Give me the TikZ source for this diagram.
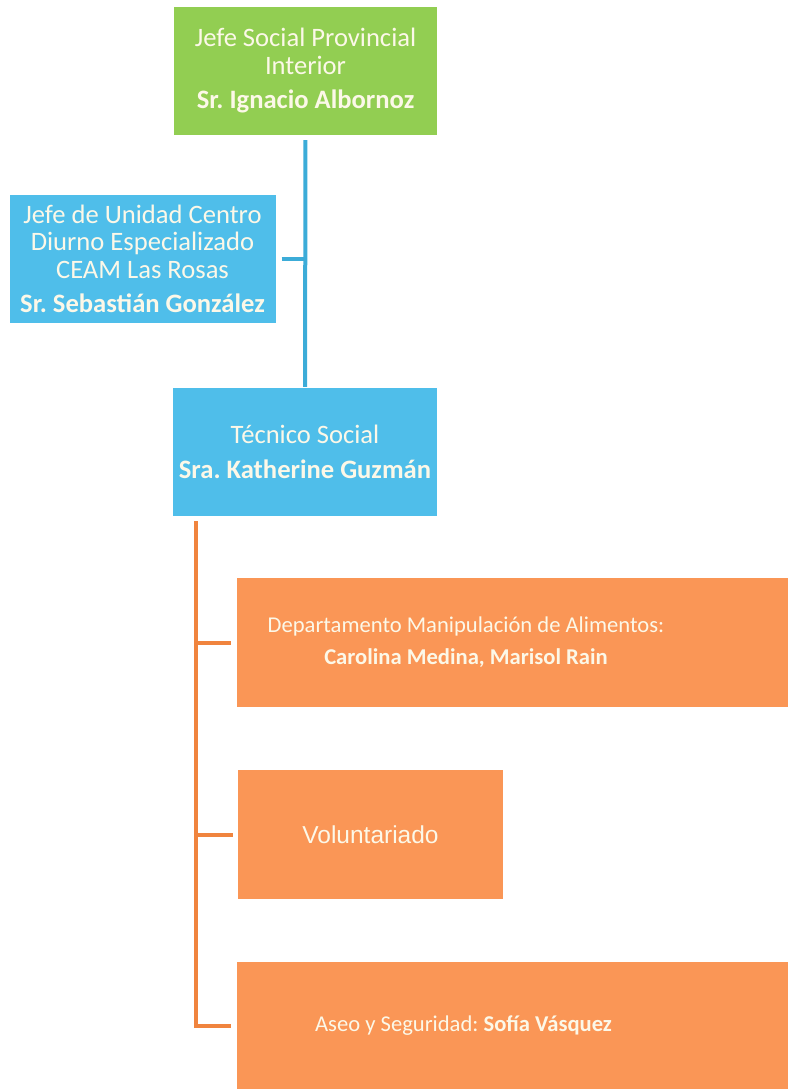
\documentclass[tikz,border=0pt]{standalone}
\usepackage{fontspec}
\setmainfont{Carlito}
\newfontfamily\arialfont{Liberation Sans}
\frenchspacing

\definecolor{jefegreen}{RGB}{146,206,82}
\definecolor{cyanbox}{RGB}{79,190,234}
\definecolor{cyanline}{RGB}{60,172,216}
\definecolor{orangebox}{RGB}{250,150,86}
\definecolor{orangeline}{RGB}{240,132,62}
\definecolor{cream}{RGB}{252,248,232}

\begin{document}
\begin{tikzpicture}[x=1pt, y=1pt]
    \tikzstyle{box}=[rectangle, text=cream, align=center, inner sep=1pt]
    \tikzstyle{topbox}=[box, minimum width=264pt, minimum height=128pt,
        font=\fontsize{26.6}{27.5}\selectfont]
    \tikzstyle{areabox}=[box, fill=orangebox, minimum height=129pt,
        font=\fontsize{23}{32}\selectfont]
    \tikzstyle{areatext}=[text=cream, align=center, inner sep=0pt,
        font=\fontsize{22.6}{32}\selectfont]
    \tikzstyle{bline}=[draw=cyanline, line width=4pt]
    \tikzstyle{oline}=[draw=orangeline, line width=4pt]

    \useasboundingbox (0, 0) rectangle (787, -1089);

    % jefaturas
    \node (jefe) at (305.5, -71) [topbox, fill=jefegreen, minimum width=263pt]
        {Jefe Social Provincial\\Interior\\[7pt]\textbf{Sr. Ignacio Albornoz}};
    \node (unidad) at (142.5, -259) [topbox, fill=cyanbox, minimum width=266pt]
        {Jefe de Unidad Centro\\Diurno Especializado\\CEAM Las Rosas\\[7pt]%
        \textbf{Sr. Sebastián González}};
    \node (tecnico) at (305, -452) [topbox, fill=cyanbox]
        {Técnico Social\\[7pt]\textbf{Sra. Katherine Guzmán}};

    % areas
    \node (alimentos) at (516, -642.5) [areabox, minimum width=558pt,
        label={[areatext, xshift=-50pt]center:{Departamento Manipulación de Alimentos:\\%
        \textbf{Carolina Medina, Marisol Rain}}}] {};
    \node (voluntariado) at (370.5, -834.5) [areabox, minimum width=265pt,
        font=\arialfont\fontsize{24.5}{28}\selectfont] {Voluntariado};
    \node (aseo) at (516, -1026) [areabox, minimum width=558pt,
        label={[areatext, xshift=-52.5pt]center:{Aseo y Seguridad: \textbf{Sofía Vásquez}}}] {};

    \coordinate (ospine) at (196, -521);

    \draw [bline, shorten <=5pt, shorten >=1pt] (jefe) to (tecnico);
    \draw [bline, shorten <=6pt] (unidad) to (unidad -| jefe);

    \draw [oline, shorten >=6pt] (ospine) |- (aseo);
    \draw [oline, shorten >=6pt] (ospine |- alimentos) to (alimentos);
    \draw [oline, shorten >=5pt] (ospine |- voluntariado) to (voluntariado);

\end{tikzpicture}
\end{document}
